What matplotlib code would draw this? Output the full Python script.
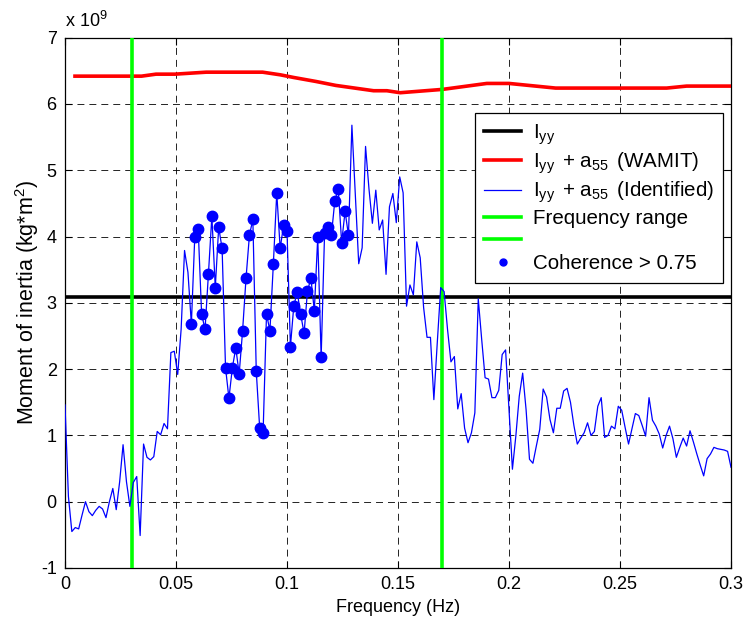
import numpy as np
import matplotlib
matplotlib.use('Agg')
import matplotlib.pyplot as plt
from matplotlib.lines import Line2D

plt.rcParams['font.family'] = ['Liberation Sans', 'DejaVu Sans']
plt.rcParams['mathtext.fontset'] = 'custom'
plt.rcParams['mathtext.rm'] = 'Liberation Sans'
plt.rcParams['mathtext.it'] = 'Liberation Sans:italic'
plt.rcParams['mathtext.default'] = 'regular'
plt.rcParams['lines.scale_dashes'] = False

# ---------------- data (values in units of 1e9 kg*m^2) ----------------
iyy_value = 3.09
freq_band = [0.03, 0.17]

wamit_freq = [0.0045, 0.0345, 0.041, 0.0495, 0.0636, 0.089, 0.097, 0.103, 0.113,
              0.122, 0.139, 0.145, 0.151, 0.170, 0.190, 0.200, 0.221, 0.271, 0.280, 0.300]
wamit_vals = [6.42, 6.42, 6.45, 6.45, 6.48, 6.48, 6.44, 6.40, 6.34,
              6.28, 6.20, 6.20, 6.17, 6.22, 6.31, 6.31, 6.24, 6.24, 6.27, 6.27]

identified_vals = [
    1.46, 0.08, -0.45, -0.39, -0.41, -0.20, 0.00, -0.15, -0.21, -0.13,
    -0.07, -0.11, -0.24, 0.00, 0.20, -0.12, 0.30, 0.86, 0.30, -0.07,
    0.29, 0.38, -0.51, 0.87, 0.67, 0.63, 0.68, 1.06, 1.01, 1.18,
    1.10, 2.25, 2.27, 1.92, 2.60, 3.79, 3.46,
    2.68, 4.00, 4.11, 2.83, 2.60, 3.44, 4.31, 3.23, 4.14, 3.82,
    2.02, 1.56, 2.02, 2.32, 1.93, 2.58, 3.37, 4.02, 4.26, 1.97,
    1.11, 1.04, 2.83, 2.58, 3.58, 4.66, 3.82, 4.17, 4.09, 2.34,
    2.96, 3.16, 2.83, 2.54, 3.18, 3.37, 2.88, 3.99, 2.18, 4.05,
    4.15, 4.02, 4.54, 4.72, 3.91, 4.38, 4.02,
    5.68, 4.62, 3.59, 3.83, 5.36, 4.72, 4.20, 4.70, 4.10, 4.25,
    3.43, 4.45, 4.65, 4.21, 4.90, 4.66, 2.95, 3.27, 3.12, 3.92,
    3.68, 2.93, 2.48, 2.48, 1.54, 2.40, 3.23, 3.17, 2.60, 2.11,
    2.19, 1.40, 1.63, 1.11, 0.89, 1.04, 1.34, 3.06, 2.45, 1.87,
    1.85, 1.57, 1.57, 1.68, 2.22, 2.29, 1.40, 0.49, 0.99, 1.59,
    1.94, 1.39, 0.64, 0.58, 0.84, 1.09, 1.70, 1.58, 1.24, 1.04,
    1.41, 1.41, 1.67, 1.71, 1.50, 1.15, 0.87, 0.96, 1.04, 1.19,
    1.00, 1.06, 1.44, 1.57, 0.97, 1.00, 1.14, 1.10, 1.44, 1.38,
    1.12, 0.87, 1.10, 1.33, 1.30, 1.15, 0.99, 1.57, 1.23, 1.14,
    1.02, 0.81, 1.00, 1.14, 0.95, 0.67, 0.82, 0.96, 0.84, 1.07,
    0.90, 0.72, 0.55, 0.39, 0.65, 0.72, 0.82, 0.80, 0.79, 0.78,
    0.76, 0.52]
identified_freq = np.linspace(0.0, 0.3, len(identified_vals))
coherent_first, coherent_last = 37, 83   # indices with coherence > 0.75

x_ticks = [0, 0.05, 0.1, 0.15, 0.2, 0.25, 0.3]
x_ticklabels = ['0', '0.05', '0.1', '0.15', '0.2', '0.25', '0.3']
y_ticks = [-1, 0, 1, 2, 3, 4, 5, 6, 7]

# ---------------- figure ----------------
fig = plt.figure(figsize=(7.48, 6.26), dpi=100)
ax = fig.add_axes([65/748, 1-568/626, 666/748, 530.3/626])

ax.plot([0, 0.3], [iyy_value, iyy_value], color='k', lw=2.6, zorder=3)
ax.plot(wamit_freq, wamit_vals, color='#ff0000', lw=2.6, zorder=3)
ivals = np.array(identified_vals)
ax.plot(identified_freq, ivals, color='#0000ff', lw=0.9, zorder=4)
for f in freq_band:
    ax.axvline(f, color='#00ff00', lw=2.6, zorder=3)
sel = slice(coherent_first, coherent_last + 1)
ax.plot(identified_freq[sel], ivals[sel], 'o', color='#0000ff', ms=7.5,
        mec='#0000ff', zorder=5)

ax.set_xlim(0, 0.3)
ax.set_ylim(-1, 7)
ax.set_xticks(x_ticks)
ax.set_xticklabels(x_ticklabels)
ax.set_yticks(y_ticks)
ax.set_yticklabels([str(v) for v in y_ticks])
ax.grid(True, color='k', linestyle=(0, (5, 3.6)), linewidth=0.6)
ax.tick_params(direction='in', top=True, right=True, length=5, width=0.8,
               labelsize=13, pad=6)
for s in ax.spines.values():
    s.set_linewidth(0.9)

ax.set_xlabel('Frequency (Hz)', fontsize=13, labelpad=4)
ax.set_ylabel('Moment of inertia (kg*m$^2$)', fontsize=15.5, labelpad=0)
ax.text(0.0, 1.012, r'x 10$^{9}$', transform=ax.transAxes, ha='left',
        va='bottom', fontsize=13)

handles = [
    Line2D([], [], color='k', lw=2.6),
    Line2D([], [], color='#ff0000', lw=2.6),
    Line2D([], [], color='#0000ff', lw=0.9),
    Line2D([], [], color='#00ff00', lw=2.6),
    Line2D([], [], color='#00ff00', lw=2.6),
    Line2D([], [], color='#0000ff', marker='o', ls='none', ms=5),
]
labels = [r'I$_{yy}$', r'I$_{yy}\,$ + a$_{55}\,$ (WAMIT)',
          r'I$_{yy}\,$ + a$_{55}\,$ (Identified)',
          'Frequency range', ' ', 'Coherence > 0.75']
leg = ax.legend(handles, labels, loc='upper right', bbox_to_anchor=(0.988, 0.858),
                borderaxespad=0, fontsize=14.8, handlelength=1.8, handletextpad=0.55,
                labelspacing=0.18, borderpad=0.45, fancybox=False, framealpha=1,
                edgecolor='k')
leg.get_frame().set_linewidth(0.9)
leg.set_zorder(10)

fig.savefig('out.png', dpi=100)
